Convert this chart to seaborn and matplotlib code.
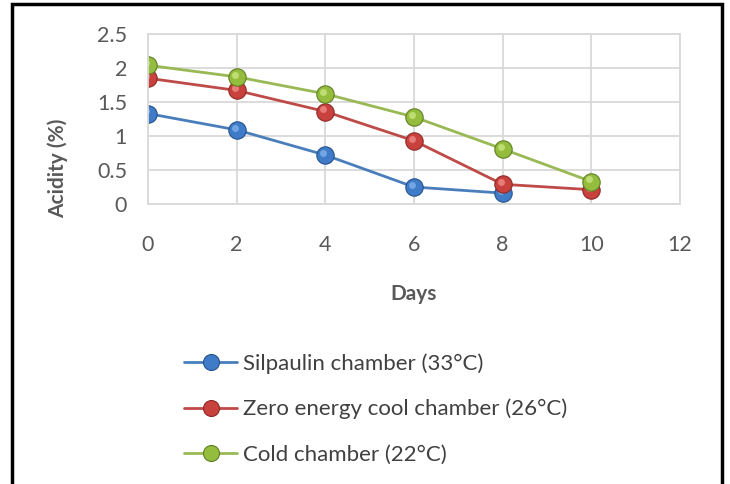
import pandas as pd
import matplotlib.pyplot as plt
import seaborn as sns
from matplotlib.patches import Rectangle
from matplotlib.lines import Line2D
from matplotlib.transforms import offset_copy

days = [0, 2, 4, 6, 8, 10]
silpaulin = [1.33, 1.09, 0.72, 0.25, 0.16]
zero_energy = [1.85, 1.67, 1.36, 0.93, 0.29, 0.21]
cold = [2.04, 1.87, 1.62, 1.28, 0.81, 0.33]

labels = ['Silpaulin chamber (33°C)', 'Zero energy cool chamber (26°C)', 'Cold chamber (22°C)']
series = [silpaulin, zero_energy, cold]
line_colors = ['#4a7ebb', '#be4b48', '#98b954']
marker_colors = ['#3f7bc6', '#c9413d', '#94bd3e']
edge_colors = ['#24528f', '#8c2a27', '#5f7e22']
light_colors = ['#7fb0ec', '#ee8a86', '#c8e57f']

sns.set_style('white')
plt.rcParams['font.family'] = ['Lato', 'DejaVu Sans']

fig = plt.figure(figsize=(7.3, 4.84), dpi=100)
ax = fig.add_axes([148 / 730, 1 - 204 / 484, 532 / 730, 170 / 484])

# one call per chamber so each gets its own marker edge
for vals, lab, lc, mc, ec, hc in zip(series, labels, line_colors, marker_colors, edge_colors, light_colors):
    d = pd.DataFrame({'Days': days[:len(vals)], 'Acidity': vals})
    sns.lineplot(data=d, x='Days', y='Acidity', ax=ax, color=lc, lw=2,
                 marker='o', markersize=12.5, markerfacecolor=mc,
                 markeredgecolor=ec, markeredgewidth=0.8, label=lab, legend=False)
    # small highlight to fake the glossy sphere look
    hl = offset_copy(ax.transData, fig=fig, x=-1.5, y=1.5, units='points')
    ax.plot(d['Days'], d['Acidity'], 'o', ms=5, color=hc, mec='none', alpha=0.8, transform=hl)

ax.set_xlim(0, 12)
ax.set_ylim(0, 2.5)
ax.set_xticks(range(0, 13, 2))
ax.set_yticks([0, 0.5, 1, 1.5, 2, 2.5])
ax.set_yticklabels(['0', '0.5', '1', '1.5', '2', '2.5'])
ax.grid(True, color='#d9d9d9', lw=1.3)
ax.set_axisbelow(True)
for s in ax.spines.values():
    s.set_color('#d9d9d9')
    s.set_linewidth(1.3)
ax.tick_params(axis='x', length=0, pad=22, labelsize=15.5, labelcolor='#595959')
ax.tick_params(axis='y', length=0, pad=15, labelsize=15.5, labelcolor='#595959')
ax.set_xlabel('Days', fontsize=15, fontweight='bold', color='#595959', labelpad=21)
ax.set_ylabel('')
fig.text(58 / 730, 1 - 168 / 484, 'Acidity (%)', rotation=90, ha='center', va='center',
         fontsize=15, fontweight='bold', color='#595959')

handles = [Line2D([0], [0], color=lc, lw=2, marker='o', ms=11.5, mfc=mc, mec=ec, mew=0.8)
           for lc, mc, ec in zip(line_colors, marker_colors, edge_colors)]
fig.legend(handles, labels, loc='upper left', bbox_to_anchor=(164 / 730, 1 - 333 / 484),
           frameon=False, fontsize=16, labelcolor='#404040', handlelength=2.4,
           handletextpad=0.25, labelspacing=1.13)

fig.add_artist(Rectangle((11.5 / 730, -0.1), 710 / 730, 1.1 - 4.5 / 484, transform=fig.transFigure,
                         fill=False, ec='black', lw=2.5, clip_on=False))

fig.savefig('out.png', dpi=100)
